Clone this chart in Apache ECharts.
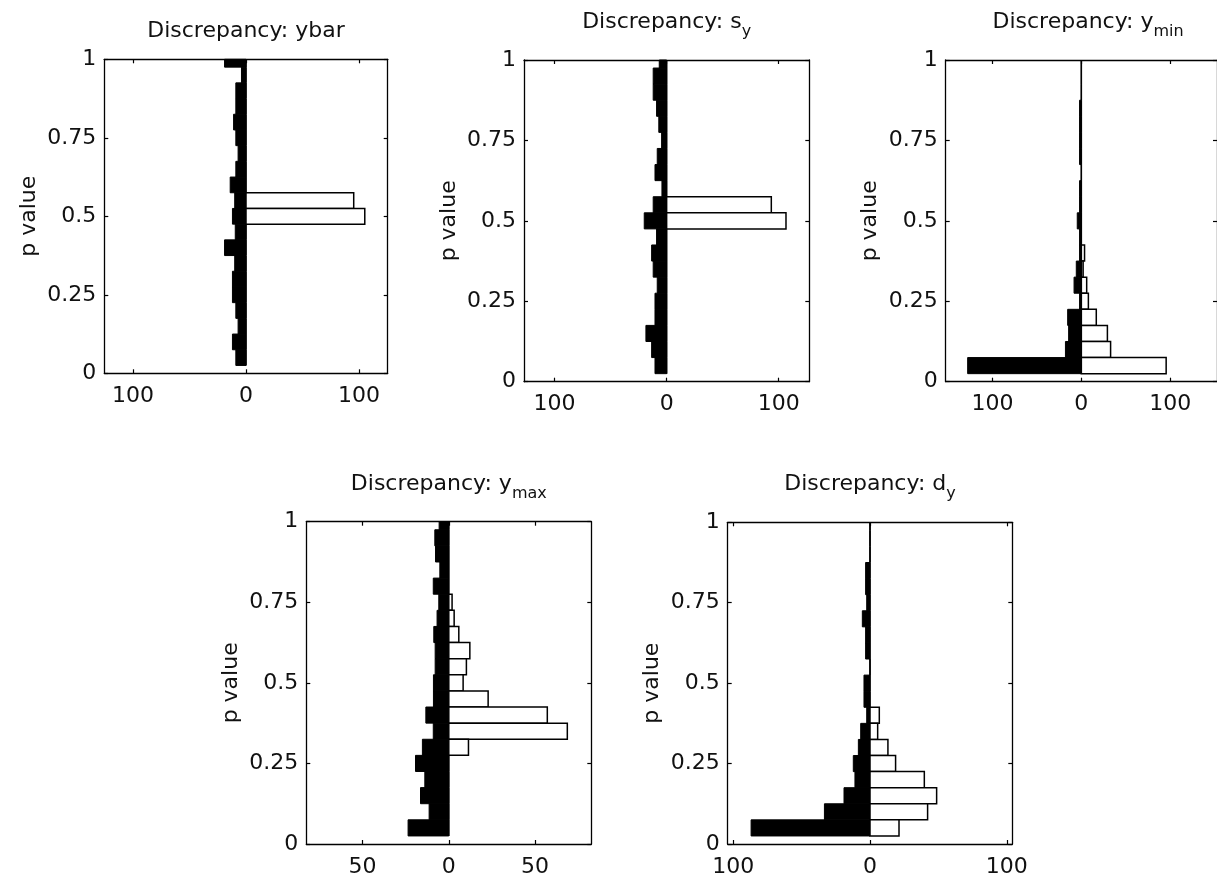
<!DOCTYPE html>
<html>
<head>
<meta charset="utf-8">
<script src="https://cdn.jsdelivr.net/npm/echarts@6/dist/echarts.min.js"></script>
<style>html,body{margin:0;padding:0;background:#fff}#c{width:1217px;height:878px}</style>
</head>
<body>
<div id="c"></div>
<script>
// bin centres (p value), top to bottom
const binCenters = [1.00,0.95,0.90,0.85,0.80,0.75,0.70,0.65,0.60,0.55,0.50,0.45,0.40,0.35,0.30,0.25,0.20,0.15,0.10,0.05];

// black (left) and white (right) counts for each discrepancy
const ybarBlack = [19,4,9,9,11,9,7,9,14,10,12,9.5,19,10,12,12,9,7,12,9];
const ybarWhite = [0,0,0,0,0,0,0,0,0,95.4,105.2,0,0,0,0,0,0,0,0,0];

const syBlack = [6.6,12,12,9,7,4.5,8.4,10.4,4.2,12,20,9,13.4,12,8.4,10.4,10.4,18.5,13.4,10.4];
const syWhite = [0,0,0,0,0,0,0,0,0,93.4,106.5,0,0,0,0,0,0,0,0,0];

const yminBlack = [0,0,0,2,2,2,2,0,2,2,4.6,2,2,5.7,8.2,2,15.4,14.3,17.9,127.9];
const yminWhite = [0,0,0,0,0,0,0,0,0,0,0,0,3.6,2,6,7.9,16.8,29.3,32.9,95.4];

const ymaxBlack = [5.6,8.1,7.7,5.2,9,5.8,6.8,8.7,7.9,7.9,8.9,8.9,13.3,9,15.3,19.3,13.9,16.4,11.4,23.6];
const ymaxWhite = [0,0,0,0,0,1.9,3.1,5.8,12.2,10.2,8.3,22.8,57.1,68.7,11.4,0,0,0,0,0];

const dyBlack = [0,0,0,3.2,3.2,2.4,5.6,3.2,3.2,0,4.4,4.4,2.4,6.8,8.5,12.2,11,19,33.3,86.9];
const dyWhite = [0,0,0,0,0,0,0,0,0,0,0,0,6.8,5.6,13.1,18.7,39.7,48.7,42.1,21.2];

// tick values
const yTickInterval = 0.25;
const xTicks100 = [-100, 0, 100];
const xTicks50 = [-50, 0, 50];

const titleMain = ['Discrepancy: ybar','Discrepancy: s','Discrepancy: y','Discrepancy: y','Discrepancy: d'];
const titleSub = ['', 'y', 'min', 'max', 'y'];
const yName = 'p value';

const FONT = 'DejaVu Sans';
const BIN = 0.05;

const panels = [
  {black: ybarBlack, white: ybarWhite, xr: 125.5, ticks: xTicks100, g: {left:104.3, top:59.3, width:283.4, height:314}, ty: 31.5},
  {black: syBlack,   white: syWhite,   xr: 127.3, ticks: xTicks100, g: {left:524,   top:60,   width:285.3, height:321.7}, ty: 31.5},
  {black: yminBlack, white: yminWhite, xr: 152.6, ticks: xTicks100, g: {left:945.7, top:60,   width:284.8, height:321.7}, ty: 31.5},
  {black: ymaxBlack, white: ymaxWhite, xr: 82.6,  ticks: xTicks50,  g: {left:306.3, top:521.7, width:285, height:322.3}, ty: 493.5},
  {black: dyBlack,   white: dyWhite,   xr: 104,   ticks: xTicks100, g: {left:727.7, top:522.3, width:284.6, height:321.7}, ty: 493.5}
];

function makeRender(isWhite) {
  return function (params, api) {
    const x = api.value(0), c = api.value(1);
    const p0 = api.coord([0, c - BIN / 2]);
    const p1 = api.coord([x, c + BIN / 2]);
    const rect = {
      x: Math.min(p0[0], p1[0]), y: Math.min(p0[1], p1[1]),
      width: Math.abs(p1[0] - p0[0]), height: Math.abs(p1[1] - p0[1])
    };
    const cs = params.coordSys;
    const shape = echarts.graphic.clipRectByRect(rect, {x: cs.x, y: cs.y, width: cs.width, height: cs.height});
    if (!shape) return;
    return {
      type: 'rect', shape: shape,
      style: isWhite ? {fill: '#fff', stroke: '#000', lineWidth: 1.5} : {fill: '#000', stroke: '#000', lineWidth: 1}
    };
  };
}

const grid = [], xAxis = [], yAxis = [], series = [], graphic = [];
panels.forEach((p, i) => {
  grid.push(Object.assign({show: false}, p.g));
  const lineStyle = {color: '#000', width: 1.3};
  const baseX = {
    gridIndex: i, type: 'value', min: -p.xr, max: p.xr,
    axisLine: {show: true, onZero: false, lineStyle},
    axisTick: {show: true, inside: true, length: 4, customValues: p.ticks, lineStyle: {color: '#000', width: 1.2}},
    splitLine: {show: false}
  };
  xAxis.push(Object.assign({}, baseX, {
    position: 'bottom',
    axisLabel: {show: true, customValues: p.ticks, formatter: v => String(Math.abs(v)), color: '#111', fontSize: 22, fontFamily: FONT, margin: 12}
  }));
  xAxis.push(Object.assign({}, baseX, {position: 'top', axisLabel: {show: false}}));
  const baseY = {
    gridIndex: i, type: 'value', min: 0, max: 1, interval: yTickInterval,
    axisLine: {show: true, onZero: false, lineStyle},
    axisTick: {show: true, inside: true, length: 4, lineStyle: {color: '#000', width: 1.2}},
    splitLine: {show: false}
  };
  yAxis.push(Object.assign({}, baseY, {
    position: 'left',
    axisLabel: {show: true, color: '#111', fontSize: 22, fontFamily: FONT, margin: 8},
    name: yName, nameLocation: 'middle', nameGap: 64,
    nameTextStyle: {color: '#111', fontSize: 22, fontFamily: FONT}
  }));
  yAxis.push(Object.assign({}, baseY, {position: 'right', axisLabel: {show: false}}));

  series.push({
    type: 'custom', xAxisIndex: 2 * i, yAxisIndex: 2 * i, z: 2,
    renderItem: makeRender(false),
    data: binCenters.map((c, k) => [-p.black[k], c])
  });
  series.push({
    type: 'custom', xAxisIndex: 2 * i, yAxisIndex: 2 * i, z: 3,
    renderItem: makeRender(true),
    data: binCenters.map((c, k) => [p.white[k], c])
  });

  const sub = titleSub[i];
  const text = sub ? '{m|' + titleMain[i] + '}{s|' + sub + '}' : '{m|' + titleMain[i] + '}';
  graphic.push({
    type: 'text', x: p.g.left + p.g.width / 2, y: p.ty, z: 10,
    style: {
      text: text, align: 'center', verticalAlign: 'middle', fill: '#111',
      rich: {
        m: {fontSize: 22, fontFamily: FONT, lineHeight: 22, verticalAlign: 'top', fill: '#111'},
        s: {fontSize: 16, fontFamily: FONT, lineHeight: sub ? 40 : 22, verticalAlign: 'middle', fill: '#111'}
      }
    }
  });
});

const chart = echarts.init(document.getElementById('c'), null, {renderer: 'canvas'});
chart.setOption({
  animation: false,
  backgroundColor: '#fff',
  grid, xAxis, yAxis, series, graphic
});
</script>
</body>
</html>
